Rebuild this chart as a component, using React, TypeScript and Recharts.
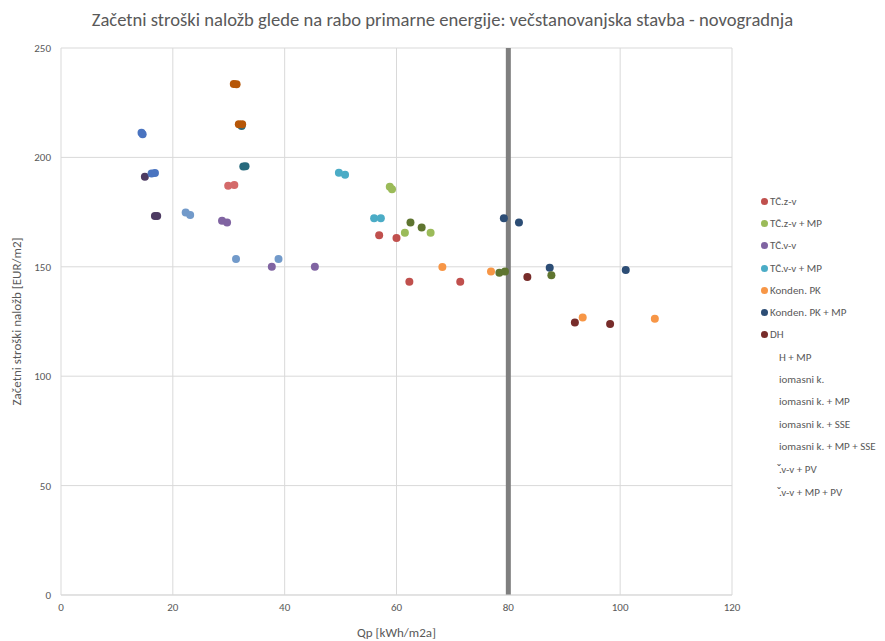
import React from "react";
import { ScatterChart, Scatter, CartesianGrid, XAxis, YAxis, ReferenceLine } from "recharts";

// Qp [kWh/m2a] vs. initial investment cost [EUR/m2]
const tczv = [
  { x: 56.9, y: 164.4 },
  { x: 60.0, y: 163.2 },
  { x: 62.3, y: 143.2 },
  { x: 71.4, y: 143.2 },
];
const tczvMp = [
  { x: 58.8, y: 186.6 },
  { x: 59.2, y: 185.4 },
  { x: 61.5, y: 165.6 },
  { x: 66.1, y: 165.6 },
];
const tcvv = [
  { x: 28.8, y: 171.1 },
  { x: 29.7, y: 170.2 },
  { x: 37.7, y: 150.0 },
  { x: 45.4, y: 150.0 },
];
const tcvvMp = [
  { x: 49.7, y: 193.0 },
  { x: 50.8, y: 192.1 },
  { x: 56.0, y: 172.2 },
  { x: 57.2, y: 172.2 },
];
const kondenPk = [
  { x: 68.2, y: 149.9 },
  { x: 76.9, y: 147.8 },
  { x: 93.3, y: 126.8 },
  { x: 106.2, y: 126.3 },
];
const kondenPkMp = [
  { x: 79.2, y: 172.2 },
  { x: 81.9, y: 170.3 },
  { x: 87.4, y: 149.6 },
  { x: 101.0, y: 148.5 },
];
const dh = [
  { x: 83.4, y: 145.3 },
  { x: 91.9, y: 124.5 },
  { x: 98.2, y: 123.9 },
];
const dhMp = [
  { x: 62.5, y: 170.2 },
  { x: 64.5, y: 168.0 },
  { x: 78.4, y: 147.3 },
  { x: 79.4, y: 147.8 },
  { x: 87.7, y: 146.1 },
];
const biomasa = [
  { x: 15.0, y: 191.2 },
  { x: 16.8, y: 173.2 },
  { x: 17.2, y: 173.2 },
];
const biomasaMp = [
  { x: 32.3, y: 214.3 },
  { x: 32.6, y: 195.8 },
  { x: 33.0, y: 196.0 },
];
const biomasaSse = [
  { x: 30.9, y: 233.6 },
  { x: 31.4, y: 233.4 },
  { x: 31.8, y: 215.1 },
  { x: 32.4, y: 215.2 },
];
const biomasaMpSse = [
  { x: 14.4, y: 211.3 },
  { x: 14.6, y: 210.6 },
  { x: 16.2, y: 192.6 },
  { x: 16.8, y: 192.9 },
];
const tcvvPv = [
  { x: 22.3, y: 174.8 },
  { x: 23.1, y: 173.7 },
  { x: 31.3, y: 153.6 },
  { x: 38.9, y: 153.6 },
];
const tcvvMpPv = [
  { x: 29.9, y: 187.1 },
  { x: 31.0, y: 187.4 },
];

const xTicks = [0, 20, 40, 60, 80, 100, 120];
const yTicks = [0, 50, 100, 150, 200, 250];

// label = as it shows in the (clipped) legend, marker = shown in legend
const series = [
  { name: "TČ.z-v", label: "TČ.z-v", data: tczv, color: "#c0504d", marker: true },
  { name: "TČ.z-v + MP", label: "TČ.z-v + MP", data: tczvMp, color: "#9bbb59", marker: true },
  { name: "TČ.v-v", label: "TČ.v-v", data: tcvv, color: "#8064a2", marker: true },
  { name: "TČ.v-v + MP", label: "TČ.v-v + MP", data: tcvvMp, color: "#4bacc6", marker: true },
  { name: "Konden. PK", label: "Konden. PK", data: kondenPk, color: "#f79646", marker: true },
  { name: "Konden. PK + MP", label: "Konden. PK + MP", data: kondenPkMp, color: "#2c4d75", marker: true },
  { name: "DH", label: "DH", data: dh, color: "#772c2a", marker: true },
  { name: "DH + MP", label: "H + MP", data: dhMp, color: "#5f7530", marker: false },
  { name: "Biomasni k.", label: "iomasni k.", data: biomasa, color: "#4d3b62", marker: false },
  { name: "Biomasni k. + MP", label: "iomasni k. + MP", data: biomasaMp, color: "#276a7d", marker: false },
  { name: "Biomasni k. + SSE", label: "iomasni k. + SSE", data: biomasaSse, color: "#b65708", marker: false },
  { name: "Biomasni k. + MP + SSE", label: "iomasni k. + MP + SSE", data: biomasaMpSse, color: "#4a74c0", marker: false },
  { name: "TČ.v-v + PV", label: "̌.v-v + PV", data: tcvvPv, color: "#729aca", marker: false },
  { name: "TČ.v-v + MP + PV", label: "̌.v-v + MP + PV", data: tcvvMpPv, color: "#d46a6a", marker: false },
];

const font = "Carlito, 'Liberation Sans Narrow', 'Open Sans', sans-serif";
const textColor = "#595959";

const Dot = (props: any) => {
  const { cx, cy, fill } = props;
  if (cx == null || cy == null) return null;
  return <circle cx={cx} cy={cy} r={4} fill={fill} />;
};

export default function App() {
  return (
    <div style={{ position: "absolute", left: 0, top: 0, width: 885, height: 641, background: "#fff", fontFamily: font }}>
      <div
        style={{
          position: "absolute",
          top: 8,
          left: 0,
          width: 885,
          textAlign: "center",
          fontSize: 18.6,
          color: textColor,
        }}
      >
        Začetni stroški naložb glede na rabo primarne energije: večstanovanjska stavba - novogradnja
      </div>
      <ScatterChart width={885} height={641} margin={{ top: 48, right: 153, bottom: 0, left: 0 }}>
        <CartesianGrid stroke="#d9d9d9" />
        <XAxis
          type="number"
          dataKey="x"
          domain={[0, 120]}
          ticks={xTicks}
          interval={0}
          height={46}
          axisLine={{ stroke: "#d9d9d9" }}
          tickLine={false}
          tick={{ fill: textColor, fontSize: 11, fontFamily: font }}
          label={{
            value: "Qp [kWh/m2a]",
            position: "insideBottom",
            offset: 4,
            fill: textColor,
            fontSize: 13,
            fontFamily: font,
          }}
        />
        <YAxis
          type="number"
          dataKey="y"
          domain={[0, 250]}
          ticks={yTicks}
          interval={0}
          width={61}
          axisLine={false}
          tickLine={false}
          tickMargin={4}
          tick={{ fill: textColor, fontSize: 11, fontFamily: font }}
          label={{
            value: "Začetni stroški naložb [EUR/m2]",
            angle: -90,
            position: "insideLeft",
            offset: 16,
            fill: textColor,
            fontSize: 13,
            fontFamily: font,
            style: { textAnchor: "middle" },
          }}
        />
        <ReferenceLine x={80} stroke="#7f7f7f" strokeWidth={5} />
        {series.map((s) => (
          <Scatter
            key={s.name}
            name={s.name}
            data={s.data}
            fill={s.color}
            shape={<Dot />}
            isAnimationActive={false}
          />
        ))}
      </ScatterChart>
      <div style={{ position: "absolute", left: 761, top: 190, fontSize: 11, color: textColor }}>
        {series.map((s) => (
          <div key={s.name} style={{ height: 22.3, display: "flex", alignItems: "center", whiteSpace: "nowrap" }}>
            {s.marker ? (
              <span
                style={{
                  display: "inline-block",
                  width: 7,
                  height: 7,
                  borderRadius: "50%",
                  background: s.color,
                  marginRight: 2,
                }}
              />
            ) : (
              <span style={{ display: "inline-block", width: 18 }} />
            )}
            {s.label}
          </div>
        ))}
      </div>
    </div>
  );
}
